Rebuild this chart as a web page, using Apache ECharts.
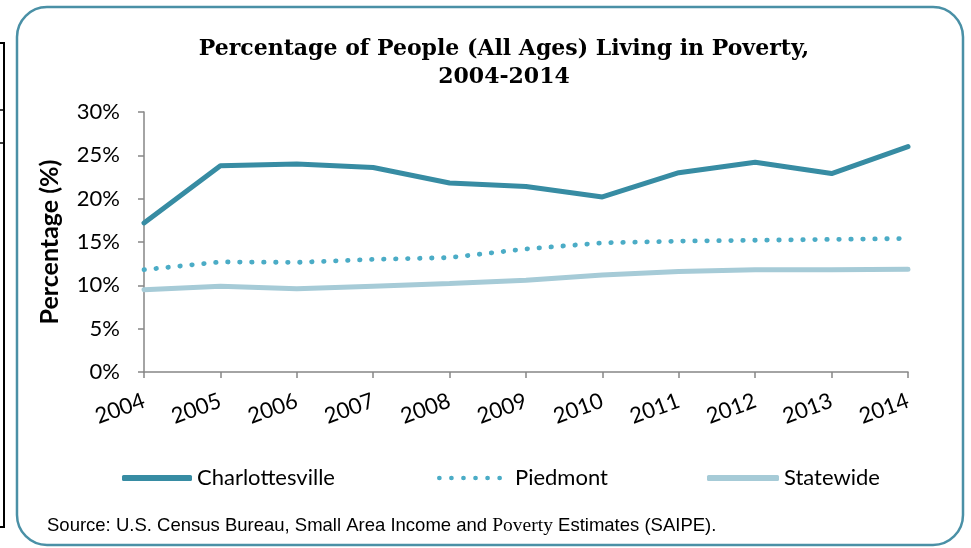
<!DOCTYPE html>
<html><head><meta charset="utf-8">
<script src="https://cdn.jsdelivr.net/npm/echarts@6/dist/echarts.min.js"></script>
<style>html,body{margin:0;padding:0;background:#fff}#c{width:971px;height:548px}</style>
</head><body><div id="c"></div>
<script>
const years = ['2004','2005','2006','2007','2008','2009','2010','2011','2012','2013','2014'];
const charlottesville = [17.2, 23.8, 24.0, 23.6, 21.8, 21.4, 20.2, 23.0, 24.2, 22.9, 26.0];
const piedmont = [11.8, 12.7, 12.65, 13.0, 13.2, 14.2, 14.9, 15.1, 15.2, 15.3, 15.4];
const statewide = [9.5, 9.9, 9.6, 9.9, 10.2, 10.6, 11.2, 11.6, 11.8, 11.8, 11.85];
const yTicks = ['0%','5%','10%','15%','20%','25%','30%'];

const C1 = '#378ca3', C2 = '#4bacc6', C3 = '#a6cbd7';
const lblFont = 'Lato, "Open Sans", sans-serif';
let dotPath = 'path://';
for (let i = 0; i < 6; i++) { const x = i * 12.2; dotPath += `M${x},2.4a2.4,2.4 0 1,0 4.8,0a2.4,2.4 0 1,0 -4.8,0 `; }
const chart = echarts.init(document.getElementById('c'), null, {renderer:'canvas'});
chart.setOption({
  animation: false,
  title: {
    text: 'Percentage of People (All Ages) Living in Poverty,\n2004-2014',
    left: 499, top: 30, textAlign: 'center',
    textStyle: {fontFamily: '"DejaVu Serif", serif', fontWeight: 'bold', fontSize: 22, lineHeight: 28, color: '#000'}
  },
  grid: {left: 144, right: 63, top: 112, bottom: 176},
  xAxis: {
    type: 'category', data: years, boundaryGap: false,
    axisLine: {lineStyle: {color: '#868686', width: 1.5}},
    axisTick: {alignWithLabel: true, length: 6, lineStyle: {color: '#868686', width: 1.5}},
    axisLabel: {rotate: 20, fontFamily: lblFont, fontSize: 22, color: '#000', margin: 28}
  },
  yAxis: {
    type: 'value', min: 0, max: 30, interval: 5,
    name: 'Percentage (%)', nameLocation: 'middle', nameGap: 82,
    nameTextStyle: {fontFamily: lblFont, fontWeight: 'bold', fontSize: 25, color: '#000'},
    axisLine: {show: true, lineStyle: {color: '#868686', width: 1.5}},
    axisTick: {show: true, length: 6, lineStyle: {color: '#868686', width: 1.5}},
    splitLine: {show: false},
    axisLabel: {fontFamily: lblFont, fontSize: 22, color: '#000', margin: 24,
      formatter: v => yTicks[v/5]}
  },
  legend: [
    {data: ['Charlottesville'], left: 117, top: 462, icon: 'roundRect', itemWidth: 70, itemHeight: 6,
     textStyle: {fontFamily: lblFont, fontSize: 22, color: '#000', padding: [0,0,0,0]}},
    {data: ['Piedmont'], left: 432, top: 462, icon: dotPath, itemWidth: 65, itemHeight: 4.8,
     textStyle: {fontFamily: lblFont, fontSize: 22, color: '#000', padding: [0,0,0,8]}},
    {data: ['Statewide'], left: 702, top: 462, icon: 'roundRect', itemWidth: 72, itemHeight: 6,
     textStyle: {fontFamily: lblFont, fontSize: 22, color: '#000', padding: [0,0,0,0]}}
  ],
  series: [
    {name: 'Charlottesville', type: 'line', data: charlottesville, symbol: 'none', color: C1,
     lineStyle: {color: C1, width: 5, cap: 'round'}},
    {name: 'Piedmont', type: 'line', data: piedmont, symbol: 'none', color: C2,
     lineStyle: {color: C2, width: 4.8, type: [0.5, 11.5], cap: 'round'}},
    {name: 'Statewide', type: 'line', data: statewide, symbol: 'none', color: C3,
     lineStyle: {color: C3, width: 5, cap: 'round'}}
  ],
  graphic: [
    {type: 'rect', shape: {x: 17, y: 7, width: 946, height: 538, r: 30}, z: -1,
     style: {fill: 'none', stroke: '#4a90a6', lineWidth: 2.5}},
    {type: 'polyline', shape: {points: [[0,43],[4,43],[4,527],[0,527]]}, style: {stroke: '#000', lineWidth: 2, fill: null}},
    {type: 'line', shape: {x1: 0, y1: 110, x2: 4, y2: 110}, style: {stroke: '#000', lineWidth: 1.5}},
    {type: 'line', shape: {x1: 0, y1: 143, x2: 4, y2: 143}, style: {stroke: '#000', lineWidth: 1.5}},
    {type: 'text', left: 47, top: 516, style: {
      text: '{a|Source: U.S. Census Bureau, Small Area Income and }{b|Poverty}{a| Estimates (SAIPE).}',
      rich: {a: {fontFamily: '"Liberation Sans", Arial, sans-serif', fontSize: 18.5, fill: '#000'},
             b: {fontFamily: '"Liberation Serif", serif', fontSize: 19.5, fill: '#000'}}}}
  ]
});
</script></body></html>
